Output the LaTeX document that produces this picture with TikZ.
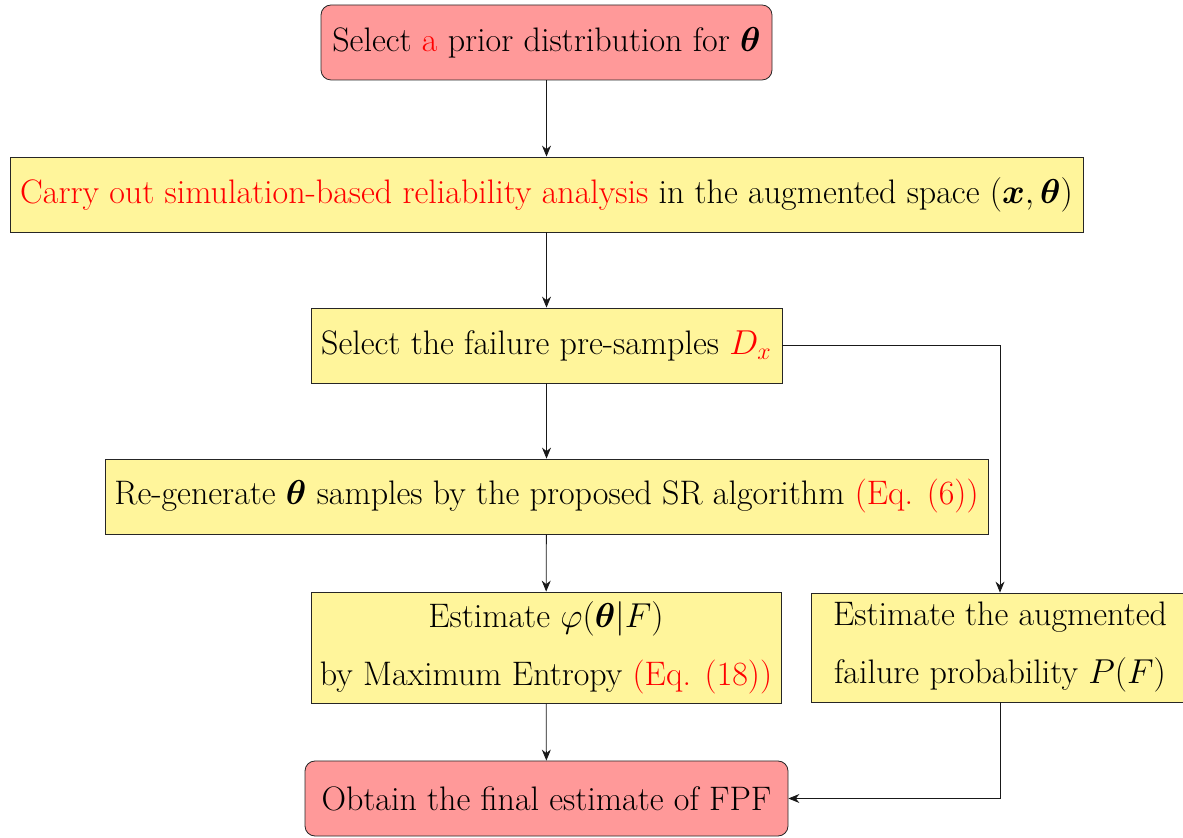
\documentclass[tikz,border=0pt]{standalone}
\usepackage{amsmath,bm}
\usetikzlibrary{arrows.meta}
\definecolor{boxred}{RGB}{255,153,153}
\definecolor{boxyel}{RGB}{255,245,155}
\tikzset{
  base/.style={draw=black!85, inner sep=0pt, align=center, font=\fontsize{17}{29}\selectfont, minimum height=37.5pt},
  redbox/.style={base, fill=boxred, rounded corners=5pt},
  yelbox/.style={base, fill=boxyel},
  arr/.style={-{Stealth[length=5.5pt,width=4.5pt]}, black!90}
}
\begin{document}
\begin{tikzpicture}[x=0.5pt,y=-0.5pt]
\useasboundingbox (0,0) rectangle (1183,838);
\node[redbox, minimum width=225.5pt] (n1) at (546.5,42.5) {Select \textcolor{red}{a} prior distribution for $\boldsymbol{\theta}$};
\node[yelbox, minimum width=536.5pt] (n2) at (546.5,194.5) {\textcolor{red}{Carry out simulation-based reliability analysis} in the augmented space $(\boldsymbol{x},\boldsymbol{\theta})$};
\node[yelbox, minimum width=235.5pt] (n3) at (546.5,345.5) {Select the failure pre-samples \textcolor{red}{$D_x$}};
\node[yelbox, minimum width=441.5pt] (n4) at (546.5,496.5) {Re-generate $\boldsymbol{\theta}$ samples by the proposed SR algorithm \textcolor{red}{(Eq. (6))}};
\node[yelbox, minimum width=235pt, minimum height=55.5pt] (n5) at (546,647.5) {Estimate $\varphi(\boldsymbol{\theta}|F)$\\by Maximum Entropy \textcolor{red}{(Eq. (18))}};
\node[yelbox, minimum width=189pt, minimum height=54.5pt] (n6) at (1000,647.5) {Estimate the augmented\\failure probability $P(F)$};
\node[redbox, minimum width=241.5pt] (n7) at (546.5,798.5) {Obtain the final estimate of FPF};
\draw[arr] (n1) -- (n2);
\draw[arr] (n2) -- (n3);
\draw[arr] (n3) -- (n4);
\draw[arr] (n4) -- (n5);
\draw[arr] (n5) -- (n7);
\draw[arr] (n3.east) -| (n6.north);
\draw[arr] (n6.south) |- (n7.east);
\end{tikzpicture}
\end{document}
